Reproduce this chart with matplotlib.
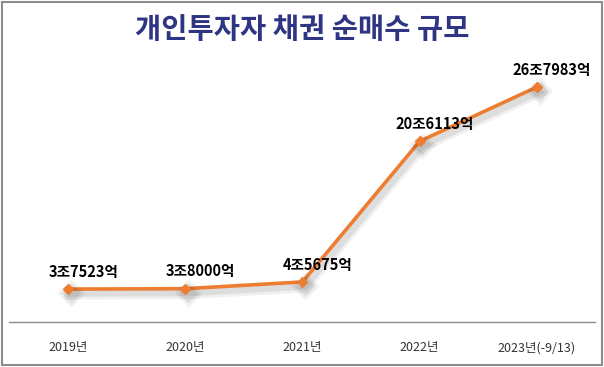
import numpy as np
import matplotlib
matplotlib.use("Agg")
import matplotlib.pyplot as plt
import matplotlib.patheffects as pe
from matplotlib.patches import Rectangle

plt.rcParams['font.family'] = ['Noto Sans CJK KR', 'DejaVu Sans']

# --- datos ---
years = ['2019년', '2020년', '2021년', '2022년', '2023년(-9/13)']
values = [3.7523, 3.8000, 4.5675, 20.6113, 26.7983]   # 조원
labels = ['3조7523억', '3조8000억', '4조5675억', '20조6113억', '26조7983억']

fig = plt.figure(figsize=(6.04, 3.67), dpi=100)
ax = fig.add_axes([0.0157, 0.1226, 0.970, 0.7166])

x = np.arange(len(years))
ax.plot(x, values, color='#ED7D31', lw=2.6, marker='D', ms=5,
        path_effects=[pe.SimpleLineShadow(offset=(2, -3), shadow_color='black', alpha=0.06, linewidth=9),
                      pe.SimpleLineShadow(offset=(2, -3), shadow_color='black', alpha=0.08, linewidth=5),
                      pe.Normal()])

for xi, v, t in zip(x, values, labels):
    ax.annotate(t, (xi, v), xytext=(11, 12.5), textcoords='offset points',
                ha='center', va='center', fontsize=10.5, fontweight='bold', color='black')

ax.set_xlim(-0.5, len(years) - 0.5)
ax.set_ylim(0, 30)
ax.set_xticks(x)
ax.set_xticklabels(years, fontsize=9, color='#333333')
ax.tick_params(axis='x', length=0, pad=14)
ax.set_yticks([])
for s in ['top', 'right', 'left']:
    ax.spines[s].set_visible(False)
ax.spines['bottom'].set_color('#8c8c8c')
ax.spines['bottom'].set_linewidth(1.0)

fig.text(0.5, 0.918, '개인투자자 채권 순매수 규모', ha='center', va='center',
         fontsize=20.5, fontweight='bold', color='#2E3582')

fig.patches.append(Rectangle((0.004, 0.006), 0.992, 0.988, transform=fig.transFigure,
                             fill=False, edgecolor='#8c8c8c', lw=1.5))

fig.savefig('out.png', dpi=100)
